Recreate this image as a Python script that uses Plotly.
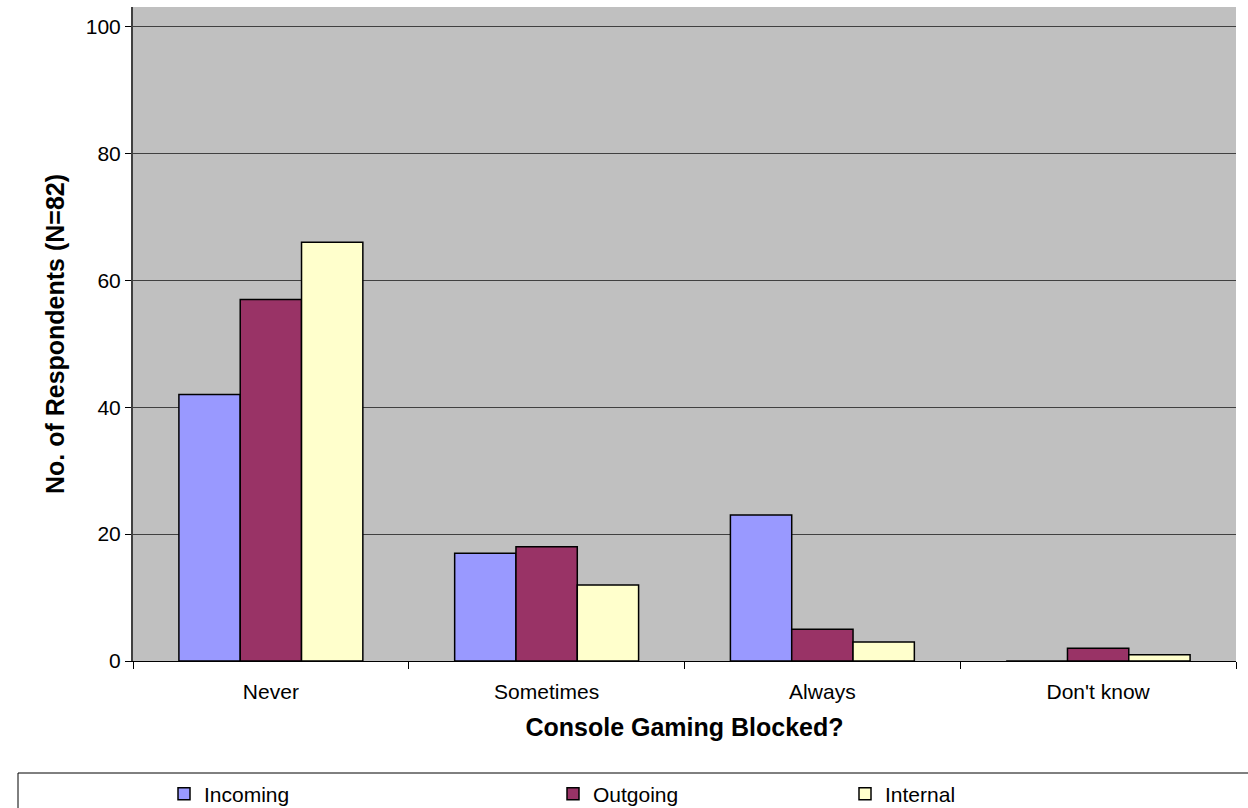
import plotly.graph_objects as go

categories = ["Never", "Sometimes", "Always", "Don't know"]
incoming = [42, 17, 23, 0]
outgoing = [57, 18, 5, 2]
internal = [66, 12, 3, 1]

W, H = 1248, 808
L, R, T, B = 133, 12, 7, 147
pw, ph = W - L - R, H - T - B

def px_x(x):
    return (x - L) / pw

def px_y(y):
    return (H - B - y) / ph

fig = go.Figure()
series = [("Incoming", incoming, "#9999FF", "legend"),
          ("Outgoing", outgoing, "#993366", "legend2"),
          ("Internal", internal, "#FFFFCC", "legend3")]
for name, vals, col, lg in series:
    fig.add_trace(go.Bar(x=categories, y=vals, name=name, legend=lg, showlegend=True,
                         marker=dict(color=col, line=dict(color="black", width=1.5))))

font = dict(family="Liberation Sans, Arial, sans-serif", color="black")
legend_y = px_y(794)
common_leg = dict(orientation="h", yanchor="middle", y=legend_y, xanchor="left",
                  bgcolor="rgba(0,0,0,0)", font=dict(size=21, **font),
                  itemwidth=30, tracegroupgap=0, visible=True)

fig.update_layout(
    width=W, height=H,
    margin=dict(l=L, r=R, t=T, b=B, autoexpand=False),
    paper_bgcolor="white",
    plot_bgcolor="#C0C0C0",
    barmode="group",
    bargap=0.333,
    bargroupgap=0,
    showlegend=True,
    font=dict(size=21, **font),
    legend=dict(x=px_x(164), **common_leg),
    legend2=dict(x=px_x(553), **common_leg),
    legend3=dict(x=px_x(845), **common_leg),
    xaxis=dict(
        title=dict(text="<b>Console Gaming Blocked?</b>", font=dict(size=25, **font), standoff=16),
        tickson="boundaries", ticks="outside", ticklen=7, tickcolor="black",
        ticklabelstandoff=12,
        showline=True, linecolor="black", linewidth=1, automargin=False,
        tickfont=dict(size=21, **font), showgrid=False,
    ),
    yaxis=dict(
        title=dict(text="<b>No. of Respondents (N=82)</b>", font=dict(size=25, **font), standoff=14),
        range=[0, 103.1], tickvals=[0, 20, 40, 60, 80, 100],
        ticks="outside", ticklen=6, tickcolor="black", automargin=False,
        showline=True, linecolor="#404040", linewidth=2,
        showgrid=True, gridcolor="#404040", gridwidth=1,
        zeroline=False, tickfont=dict(size=21, **font),
    ),
    shapes=[dict(type="rect", xref="paper", yref="paper",
                 x0=px_x(18), x1=px_x(1262), y0=px_y(773), y1=px_y(830),
                 line=dict(color="black", width=1), fillcolor="rgba(0,0,0,0)")],
)

fig.write_html("out.html", config={"displayModeBar": False},
               post_script="document.body.style.margin='0';document.body.style.padding='0';")
